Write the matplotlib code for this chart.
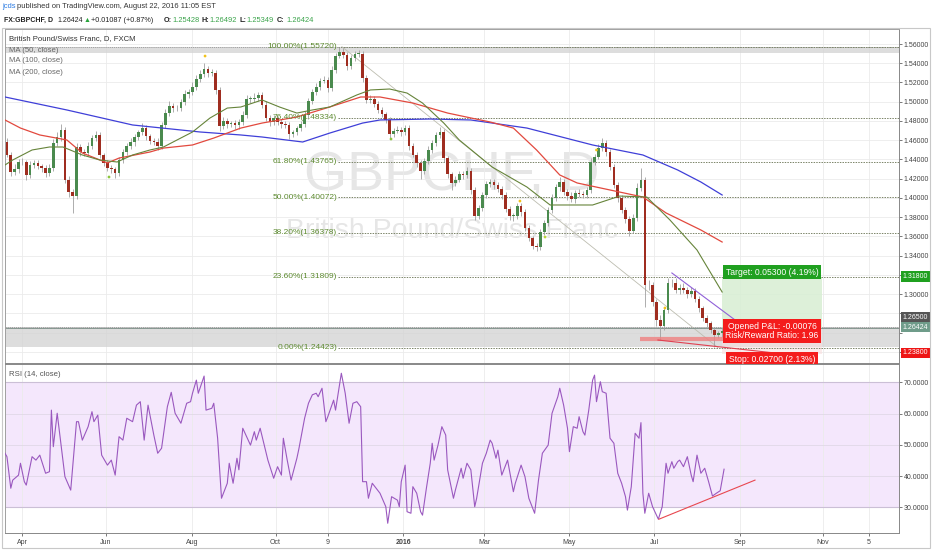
import numpy as np
import pandas as pd
import matplotlib
matplotlib.use('Agg')
import matplotlib.pyplot as plt
from matplotlib import transforms
from matplotlib.patches import Rectangle

plt.rcParams['font.family'] = ['Liberation Sans', 'DejaVu Sans']

# ---- data ----
# 2-session candles, GBPCHF daily, 19 Mar 2015 .. 22 Aug 2016
first_open = 1.458
closes = [
    1.445, 1.427, 1.430, 1.437, 1.437, 1.424, 1.434, 1.436, 1.433, 1.431,
    1.426, 1.431, 1.457, 1.463, 1.471, 1.419, 1.406, 1.402, 1.453, 1.448,
    1.447, 1.454, 1.462, 1.465, 1.445, 1.436, 1.431, 1.430, 1.426, 1.439,
    1.448, 1.454, 1.458, 1.463, 1.468, 1.473, 1.464, 1.459, 1.458, 1.454,
    1.476, 1.488, 1.496, 1.493, 1.493, 1.500, 1.508, 1.510, 1.515, 1.524,
    1.529, 1.534, 1.530, 1.530, 1.512, 1.475, 1.480, 1.477, 1.478, 1.476,
    1.479, 1.486, 1.503, 1.503, 1.504, 1.507, 1.497, 1.483, 1.479, 1.483,
    1.479, 1.477, 1.476, 1.466, 1.468, 1.473, 1.477, 1.486, 1.501, 1.510,
    1.515, 1.522, 1.523, 1.514, 1.533, 1.548, 1.552, 1.549, 1.537, 1.545,
    1.550, 1.550, 1.525, 1.502, 1.503, 1.498, 1.491, 1.487, 1.481, 1.466,
    1.470, 1.471, 1.468, 1.473, 1.454, 1.445, 1.436, 1.428, 1.438, 1.450,
    1.457, 1.465, 1.469, 1.441, 1.425, 1.415, 1.419, 1.425, 1.424, 1.428,
    1.408, 1.381, 1.389, 1.403, 1.414, 1.417, 1.413, 1.409, 1.403, 1.388,
    1.381, 1.381, 1.392, 1.385, 1.369, 1.358, 1.350, 1.349, 1.364, 1.374,
    1.387, 1.400, 1.411, 1.417, 1.406, 1.402, 1.399, 1.405, 1.404, 1.403,
    1.408, 1.437, 1.443, 1.452, 1.457, 1.448, 1.432, 1.413, 1.400, 1.387,
    1.378, 1.366, 1.379, 1.410, 1.419, 1.309, 1.309, 1.292, 1.273, 1.267,
    1.283, 1.311, 1.312, 1.304, 1.306, 1.304, 1.300, 1.303, 1.295, 1.285,
    1.275, 1.270, 1.263, 1.257, 1.259, 1.262, 1.2642]
# wick lengths above / below the body, in 1/1000
upper_wick = [
    4, 3, 5, 3, 4, 2, 4, 3, 3, 2, 3, 4, 4, 5, 6, 3, 4, 3, 4, 3,
    3, 4, 3, 5, 3, 2, 3, 3, 2, 4, 3, 3, 4, 3, 3, 5, 3, 2, 3, 4,
    3, 4, 5, 3, 4, 3, 4, 3, 5, 4, 4, 6, 3, 4, 3, 3, 4, 3, 2, 3,
    3, 4, 4, 3, 5, 3, 3, 4, 3, 3, 2, 3, 3, 3, 3, 2, 3, 4, 3, 3,
    4, 3, 4, 3, 4, 3, 5, 4, 3, 4, 3, 4, 3, 3, 4, 3, 3, 3, 2, 3,
    3, 4, 3, 3, 3, 3, 3, 3, 3, 4, 3, 4, 5, 3, 3, 2, 4, 3, 3, 4,
    3, 3, 4, 3, 4, 3, 3, 3, 3, 3, 4, 3, 3, 3, 3, 3, 2, 3, 4, 3,
    3, 4, 3, 5, 3, 3, 4, 3, 4, 3, 3, 4, 3, 4, 5, 3, 3, 3, 3, 3,
    3, 3, 4, 5, 12, 3, 6, 4, 3, 5, 4, 6, 4, 5, 4, 5, 3, 4, 3, 3,
    3, 3, 2, 3, 3, 4, 3]
lower_wick = [
    3, 4, 3, 4, 3, 5, 3, 3, 3, 4, 4, 3, 3, 3, 4, 4, 5, 18, 3, 4,
    3, 3, 3, 3, 4, 3, 3, 4, 5, 3, 3, 3, 3, 4, 3, 3, 4, 3, 3, 4,
    3, 3, 3, 4, 3, 3, 3, 4, 3, 3, 3, 3, 4, 3, 4, 5, 3, 4, 3, 4,
    4, 3, 3, 4, 3, 3, 4, 3, 4, 3, 3, 4, 3, 5, 3, 3, 3, 3, 4, 3,
    3, 3, 3, 4, 3, 3, 3, 4, 4, 3, 3, 3, 4, 3, 3, 4, 3, 3, 3, 4,
    3, 3, 4, 3, 4, 3, 4, 8, 3, 3, 3, 3, 3, 4, 4, 7, 3, 3, 4, 3,
    4, 4, 3, 3, 3, 3, 4, 3, 4, 3, 4, 5, 3, 4, 3, 3, 3, 4, 3, 3,
    3, 3, 3, 4, 3, 4, 3, 4, 3, 3, 3, 3, 3, 3, 3, 4, 3, 3, 4, 3,
    4, 6, 3, 3, 3, 22, 5, 4, 6, 15, 4, 3, 4, 3, 4, 3, 4, 3, 3, 4,
    3, 4, 3, 12, 3, 4, 3]

# moving averages (bar index, price)
ma50_bar = [0, 4, 14, 23, 30, 40, 49, 58, 66, 75, 82, 89, 97, 106, 115, 122, 133, 142,
            151, 159, 168, 182, 189, 199, 208, 216, 227, 235, 252, 270, 282, 304, 318,
            332, 344, 358, 371]
ma50_val = [1.4342, 1.4394, 1.4498, 1.4529, 1.4529, 1.4446, 1.4394, 1.4373, 1.4446, 1.4498,
            1.4529, 1.4602, 1.4685, 1.4830, 1.4934, 1.4945, 1.5018, 1.4945, 1.4882, 1.4914,
            1.4945, 1.5070, 1.5122, 1.5132, 1.5090, 1.4986, 1.4778, 1.4602, 1.4321, 1.4113,
            1.3926, 1.3926, 1.4019, 1.4009, 1.3770, 1.3458, 1.3021]
ma100_bar = [0, 8, 18, 32, 40, 53, 59, 75, 82, 97, 108, 122, 133, 151, 168, 184, 194, 211,
             229, 241, 251, 263, 275, 287, 296, 313, 330, 342, 360, 371]
ma100_val = [1.4810, 1.4726, 1.4654, 1.4602, 1.4467, 1.4363, 1.4414, 1.4477, 1.4518, 1.4550,
             1.4622, 1.4726, 1.4778, 1.4841, 1.4945, 1.5049, 1.5049, 1.4986, 1.4882, 1.4831,
             1.4789, 1.4726, 1.4498, 1.4238, 1.4155, 1.4082, 1.4009, 1.3843, 1.3666, 1.3541]
ma200_bar = [0, 32, 66, 101, 122, 133, 154, 168, 185, 194, 220, 241, 270, 304, 330, 348, 360, 371]
ma200_val = [1.5049, 1.4914, 1.4758, 1.4685, 1.4654, 1.4633, 1.4581, 1.4674, 1.4778, 1.4810,
             1.4820, 1.4810, 1.4726, 1.4550, 1.4446, 1.4290, 1.4165, 1.4030]

# RSI(14)
rsi_bar = [0, 1, 3, 4, 7, 8, 10, 11, 14, 16, 18, 21, 23, 24, 25, 27, 31, 34, 37, 38,
           40, 43, 45, 46, 48, 50, 53, 55, 57, 59, 61, 63, 66, 68, 70, 72, 74, 77, 79, 81,
           84, 86, 88, 91, 94, 96, 97, 99, 100, 103, 104, 107, 108, 110, 112, 115, 116, 118, 120, 121,
           123, 125, 127, 129, 130, 132, 136, 139, 141, 143, 144, 146, 148, 151, 152, 155, 157, 159, 161, 162,
           164, 166, 167, 170, 171, 174, 176, 178, 180, 182, 184, 185, 187, 188, 190, 194, 197, 198, 200, 203,
           204, 205, 207, 208, 210, 211, 213, 215, 216, 218, 220, 221, 222, 224, 226, 228, 229, 232, 233, 236,
           237, 239, 241, 243, 244, 247, 249, 251, 252, 254, 255, 257, 260, 263, 264, 267, 269, 271, 274, 276,
           278, 281, 283, 286, 287, 289, 291, 292, 294, 296, 297, 299, 300, 302, 304, 305, 306, 308, 309, 311,
           313, 315, 317, 319, 321, 322, 324, 326, 328, 329, 330, 331, 333, 335, 338, 340, 342, 343, 345, 346,
           348, 349, 351, 353, 355, 356, 358, 360, 362, 364, 366, 368, 370, 372]
rsi_val = [47.3, 46.2, 36.1, 38.7, 40.3, 44.1, 38.2, 37.1, 46.2, 45.1, 46.7, 40.9, 41.4, 61.1, 49.4, 60.1, 39.8, 35.5, 57.4, 57.4,
           51.5, 55.8, 60.6, 57.4, 59.5, 46.7, 43.5, 45.1, 40.3, 52.6, 51.5, 58.5, 57.4, 62.7, 63.8, 51.5, 62.7, 53.1, 47.3, 48.9,
           62.2, 66.8, 60.1, 56.9, 63.3, 63.8, 66.5, 70.7, 66.5, 72.0, 61.1, 61.7, 63.3, 52.1, 32.9, 37.7, 44.1, 37.7, 45.7, 42.0,
           55.3, 52.6, 49.9, 54.2, 51.5, 55.3, 45.1, 39.3, 43.0, 40.3, 52.1, 45.1, 38.7, 45.7, 48.6, 58.5, 63.3, 66.0, 66.5, 65.4,
           68.1, 57.4, 59.0, 64.3, 61.1, 72.9, 66.5, 56.9, 63.3, 63.8, 62.2, 38.2, 38.2, 32.9, 37.7, 34.5, 30.2, 24.9, 33.4, 32.3,
           30.2, 38.2, 43.5, 28.6, 28.1, 36.6, 34.5, 28.6, 27.5, 36.1, 44.1, 50.5, 45.1, 49.9, 55.8, 53.1, 42.0, 32.9, 35.5, 42.5,
           39.3, 44.1, 42.0, 30.2, 32.9, 44.1, 47.3, 51.5, 50.5, 45.7, 48.3, 40.3, 45.1, 35.0, 37.7, 43.5, 39.8, 32.9, 28.1, 38.7,
           47.3, 49.9, 60.1, 65.4, 68.1, 62.7, 55.3, 47.8, 55.8, 55.3, 59.0, 54.2, 53.1, 61.1, 70.7, 72.3, 63.8, 70.2, 67.0, 66.5,
           52.1, 50.5, 40.9, 37.7, 33.4, 29.1, 36.6, 53.7, 52.1, 57.1, 34.5, 28.1, 34.5, 30.2, 26.2, 30.2, 44.1, 40.9, 44.6, 42.5,
           44.6, 45.1, 43.0, 46.2, 40.3, 38.2, 46.7, 40.9, 42.5, 38.2, 33.6, 34.5, 35.3, 42.2]

# fibonacci retracement
fib_labels = ['100.00%', '76.40%', '61.80%', '50.00%', '38.20%', '23.60%', '0.00%']
fib_prices = [1.55720, 1.48334, 1.43765, 1.40072, 1.36378, 1.31809, 1.24423]
fib_start_bar = 172.3
fib_trend_bar = [174.3, 368.9]
fib_trend_val = [1.55720, 1.24423]

# drawings
zone_top = [1.5505, 1.5572]
zone_low = [1.2445, 1.2656]
wedge_bar = [345.0, 377.7]
wedge_val = [1.3219, 1.2730]
support_bar = [328.5, 373.6]
support_val = [1.2533, 1.2533]
slope_bar = [337.8, 398.3]
slope_val = [1.2522, 1.2387]
rsi_trend_bar = [338.3, 388.0]
rsi_trend_val = [26.2, 38.7]
marker_bar = [103.5, 53.8, 199.7, 266.4, 279.4, 306.0, 341.4]
marker_val = [1.5475, 1.4217, 1.4612, 1.3967, 1.3593, 1.4498, 1.2855]
marker_col = ['#f2c21b', '#8cc63f', '#8cc63f', '#f2c21b', '#b8d43a', '#f2c21b', '#f2c21b']

# long position
pos_bars = [370.9, 422.7]
entry, target, stop = 1.265, 1.318, 1.238
last_price = 1.26424

tick_days = ['2015-04-01', '2015-06-01', '2015-08-03', '2015-10-01', '2015-11-09', '2016-01-01',
             '2016-03-01', '2016-05-02', '2016-07-01', '2016-09-01', '2016-11-01', '2016-12-05']
tick_names = ['Apr', 'Jun', 'Aug', 'Oct', '9', '2016', 'Mar', 'May', 'Jul', 'Sep', 'Nov', '5']

# ---- figure ----
W, H = 932, 550
fig = plt.figure(figsize=(W / 100, H / 100), dpi=100)
fig.patch.set_facecolor('white')


def fx(x):
    return x / W


def fy(y):
    return 1 - y / H


ax = fig.add_axes([fx(5), fy(363), 894 / W, 334 / H])
rx = fig.add_axes([fx(5), fy(533), 894 / W, 169 / H], sharex=ax)

dates = pd.bdate_range('2015-03-19', '2016-12-30')
tick_pos = dates.searchsorted(pd.to_datetime(tick_days))

c = np.array(closes)
o = np.r_[first_open, c[:-1]]
hi = np.maximum(o, c) + np.array(upper_wick) / 1000
lo = np.minimum(o, c) - np.array(lower_wick) / 1000
cx = np.arange(len(c)) * 2 + 1
up = c >= o
body = np.where(np.abs(c - o) < 0.0008, 0.0008, c - o)

ax.vlines(cx, lo, hi, color='#a0a0a0', lw=0.6, zorder=3)
ax.bar(cx[up], body[up], bottom=o[up], width=1.35, color='#4a8a4e', zorder=4)
ax.bar(cx[~up], body[~up], bottom=o[~up], width=1.35, color='#9f2d20', zorder=4)

ax.plot(ma200_bar, ma200_val, color='#3f3fd8', lw=0.9, zorder=5)
ax.plot(ma100_bar, ma100_val, color='#e2493e', lw=0.9, zorder=5)
ax.plot(ma50_bar, ma50_val, color='#66843a', lw=0.8, zorder=5)

ax.scatter(marker_bar, marker_val, s=4, c=marker_col, zorder=6, linewidths=0)

# watermark
ax.text(0.5, 0.56, 'GBPCHF, D', transform=ax.transAxes, ha='center', va='center',
        fontsize=40, color='#e6e6e6', zorder=0.5)
ax.text(0.5, 0.395, 'British Pound/Swiss Franc', transform=ax.transAxes, ha='center',
        va='center', fontsize=20.5, color='#e6e6e6', zorder=0.5)

# zones
for z in (zone_top, zone_low):
    ax.axhspan(z[0], z[1], color='#d2d2d2', alpha=0.75, zorder=1, lw=0)
    ax.axhline(z[1], color='#9a9a9a', lw=0.6, ls=(0, (1.5, 1)), zorder=1.1)

# fib
for lab, p in zip(fib_labels, fib_prices):
    ax.plot([fib_start_bar, 462.5], [p, p], color='#7b8468', lw=0.7, ls=(0, (1.5, 1.2)), zorder=2)
    ax.text(fib_start_bar - 0.5, p, '%s(%.5f)' % (lab, p), ha='right', va='center',
            fontsize=6, color='#5d8a30', zorder=6)
ax.plot(fib_trend_bar, fib_trend_val, color='#bdbdb0', lw=0.6, zorder=2)

# drawings
ax.plot(wedge_bar, wedge_val, color='#9060d8', lw=0.8, zorder=6)
ax.plot(support_bar, support_val, color='#ef8080', lw=3, alpha=0.8, solid_capstyle='butt', zorder=6)
ax.plot(slope_bar, slope_val, color='#e04050', lw=0.8, zorder=6)
ax.axhline(entry, color='#8a8a8a', lw=0.6, zorder=2)
ax.axhline(last_price, color='#6f9c8a', lw=0.5, ls=(0, (1, 1)), zorder=2)

# long position
ax.fill_between(pos_bars, entry, target, color='#d7eed3', alpha=0.85, zorder=1.5, lw=0)
ax.fill_between(pos_bars, stop, entry, color='#f9dede', alpha=0.6, zorder=1.5, lw=0)
mid = sum(pos_bars) / 2
ax.text(mid, 1.3226, 'Target: 0.05300 (4.19%)', ha='center', va='center', fontsize=6.2,
        color='white', zorder=8, bbox=dict(boxstyle='square,pad=0.3', fc='#20a020', ec='none'))
ax.text(mid, 1.2615, 'Opened P&L: -0.00076\nRisk/Reward Ratio: 1.96', ha='center', va='center',
        fontsize=6.2, color='white', zorder=8, linespacing=1.05,
        bbox=dict(boxstyle='square,pad=0.3', fc='#f41c1c', ec='none'))
ax.text(mid, 1.2324, 'Stop: 0.02700 (2.13%)', ha='center', va='center', fontsize=6.2,
        color='white', zorder=8, clip_on=False,
        bbox=dict(boxstyle='square,pad=0.3', fc='#f41c1c', ec='none'))

# axes styling
ax.set_xlim(0, 462.5)
ax.set_ylim(1.2283, 1.5756)
ax.set_yticks(np.arange(1.24, 1.5601, 0.02))
ax.yaxis.tick_right()
# the three lowest labels sit under the price tags
ax.yaxis.set_major_formatter(plt.FuncFormatter(lambda v, _: '%.5f' % v if v > 1.29 else ''))
ax.tick_params(axis='y', labelsize=5, colors='#444444', length=2, pad=1.5, width=0.5)
ax.tick_params(axis='x', labelbottom=False, length=0)
ax.set_xticks(tick_pos)
ax.grid(True, color='#ebebeb', lw=0.6)
ax.set_axisbelow(True)
for s in ax.spines.values():
    s.set_color('#a0a0a0')
    s.set_linewidth(0.7)
ax.spines['right'].set_color('#888888')
ax.spines['bottom'].set_color('#888888')

blend = transforms.blended_transform_factory(ax.transAxes, ax.transData)
price_tags = [(1.3180, '1.31800', '#1fa01f'), (1.2761, '1.26500', '#555555'),
              (1.2657, '1.26424', '#6f9c8a'), (1.2387, '1.23800', '#ee1515')]
for p, lab, col in price_tags:
    ax.text(1.004, p, lab, transform=blend, ha='left', va='center', fontsize=5, color='white',
            zorder=9, clip_on=False, bbox=dict(boxstyle='square,pad=0.25', fc=col, ec='none'))

ax.text(4 / 894, (363 - 39) / 334, 'British Pound/Swiss Franc, D, FXCM', transform=ax.transAxes,
        fontsize=5.6, color='#333333', va='center', zorder=7)
for lab, yy in [('MA (50, close)', 50), ('MA (100, close)', 61), ('MA (200, close)', 72)]:
    ax.text(4 / 894, (363 - yy) / 334, lab, transform=ax.transAxes, fontsize=5.6,
            color='#666666', va='center', zorder=7)

# RSI pane
rx.axhspan(30, 70, color='#f4e7fc', zorder=0.5, lw=0)
for v in (30, 70):
    rx.axhline(v, color='#cbbfd6', lw=0.8, zorder=1)
for v in (40, 50, 60):
    rx.axhline(v, color='#ddd5e3', lw=0.5, zorder=1)
rx.plot(rsi_bar, rsi_val, color='#9a58bf', lw=0.8, zorder=3)
rx.plot(rsi_trend_bar, rsi_trend_val, color='#e8474f', lw=0.8, zorder=4)
rx.set_ylim(21.78, 75.86)
rx.set_yticks([30, 40, 50, 60, 70])
rx.yaxis.tick_right()
rx.yaxis.set_major_formatter(plt.FormatStrFormatter('%.4f'))
rx.tick_params(axis='y', labelsize=5, colors='#444444', length=2, pad=1.5, width=0.5)
rx.set_xticks(tick_pos)
rx.set_xticklabels(tick_names)
rx.tick_params(axis='x', labelsize=5, colors='#444444', length=2, pad=2, width=0.5)
for t in rx.get_xticklabels():
    if t.get_text() == '2016':
        t.set_fontweight('bold')
rx.grid(True, axis='x', color='#ebebeb', lw=0.6)
rx.set_axisbelow(True)
for s in rx.spines.values():
    s.set_color('#a0a0a0')
    s.set_linewidth(0.7)
rx.spines['top'].set_color('#888888')
rx.spines['right'].set_color('#888888')
rx.spines['bottom'].set_color('#888888')
rx.text(4 / 894, (533 - 375) / 169, 'RSI (14, close)', transform=rx.transAxes, fontsize=5.6,
        color='#555555', va='center')

# outer frame + header
fig.patches.append(Rectangle((fx(2), fy(548)), 928 / W, 520 / H, transform=fig.transFigure,
                             fill=False, ec='#c8c8c8', lw=0.8))
fig.text(fx(2), fy(7), 'jcds', color='#2a7ae2', fontsize=5.4, va='center')
fig.text(fx(17), fy(7), 'published on TradingView.com, August 22, 2016 11:05 EST',
         color='#333333', fontsize=5.4, va='center')
header = [(4, 'FX:GBPCHF, D', '#222222', 'bold', 5.0), (57, '1.26424', '#222222', 'normal', 5.0),
          (84, '\u25b2', '#26a33a', 'normal', 5.0), (91, '+0.01087 (+0.87%)', '#222222', 'normal', 5.2),
          (164, 'O:', '#222222', 'bold', 5.2), (172, '1.25428', '#3aa34a', 'normal', 5.4),
          (201, 'H:', '#222222', 'bold', 5.2), (209, '1.26492', '#3aa34a', 'normal', 5.4),
          (240, 'L:', '#222222', 'bold', 5.2), (246, '1.25349', '#3aa34a', 'normal', 5.4),
          (277, 'C:', '#222222', 'bold', 5.2), (286, '1.26424', '#3aa34a', 'normal', 5.4)]
for x, s, col, w, fs in header:
    fig.text(fx(x), fy(20), s, color=col, fontsize=fs, fontweight=w, va='center')

fig.savefig('out.png', dpi=100)
